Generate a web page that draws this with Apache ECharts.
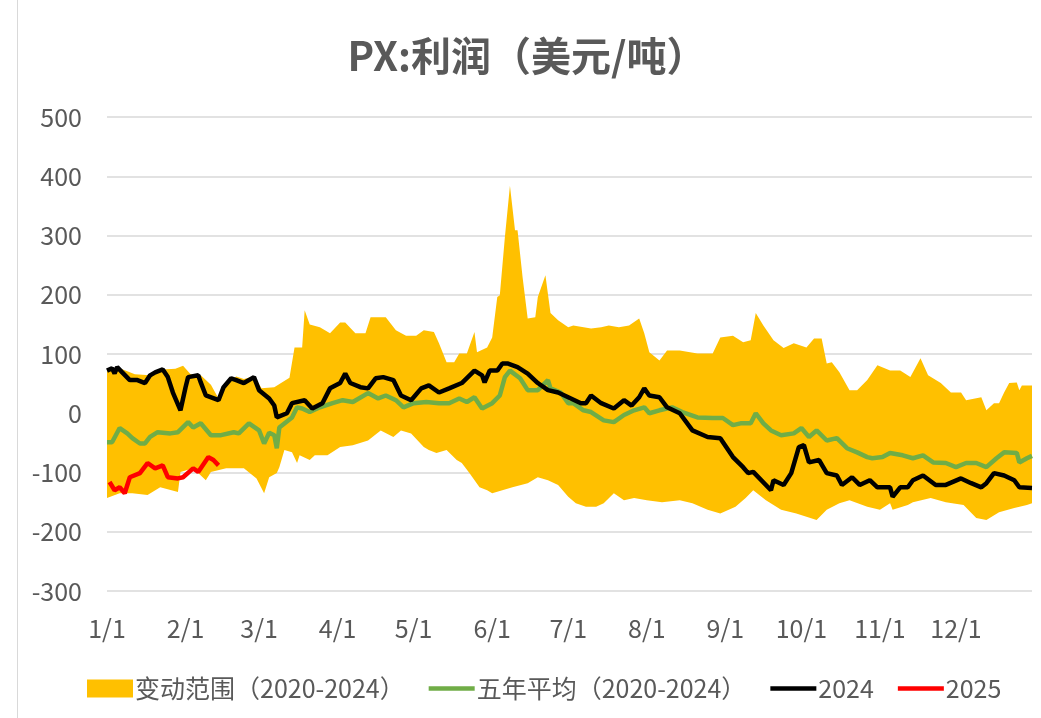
<!DOCTYPE html>
<html>
<head>
<meta charset="utf-8">
<script src="https://cdn.jsdelivr.net/npm/echarts@6/dist/echarts.min.js"></script>
<style>
html,body{margin:0;padding:0;background:#fff;}
#chart{width:1041px;height:718px;}
</style>
</head>
<body>
<div id="chart"></div>
<script>
// x = day of year (2024 calendar, 0 = Jan 1)
var monthLabels = ["1/1","2/1","3/1","4/1","5/1","6/1","7/1","8/1","9/1","10/1","11/1","12/1"];
var monthStartDays = [0,31,60,91,121,152,182,213,244,274,305,335];
var yTicks = [-300,-200,-100,0,100,200,300,400,500];

var bandUpper = [[0,72],[5,76],[11,66],[17,64],[22,74],[27,75],[30,80],[33,66],[37,64],[41,48],[44,25],[47,50],[51,62],[54,58],[58,62],[61,42],[66,44],[72,60],[74,111],[77,111],[78,174],[80,150],[84,145],[88,135],[92,153],[94,153],[98,135],[102,135],[104,162],[110,162],[114,140],[118,131],[122,131],[125,140],[129,137],[131,118],[134,86],[137,86],[139,101],[142,101],[145,137],[146,103],[150,111],[152,128],[154,196],[155,199],[157,297],[159,384],[161,309],[162,309],[164,229],[166,160],[169,162],[170,196],[173,233],[175,169],[178,157],[182,145],[184,148],[191,143],[195,145],[198,148],[202,145],[206,148],[210,160],[212,135],[214,103],[218,89],[221,106],[226,106],[233,101],[239,101],[242,128],[247,131],[251,120],[254,123],[256,169],[259,148],[263,123],[267,110],[271,118],[276,111],[279,126],[282,126],[284,84],[286,86],[289,69],[293,39],[296,39],[300,56],[304,81],[309,72],[313,72],[317,61],[321,93],[324,64],[329,51],[333,35],[337,35],[339,22],[345,27],[347,5],[350,17],[352,17],[354,35],[356,51],[359,52],[360,39],[361,47],[365,47]];

var bandLower = [[0,-143],[5,-135],[10,-135],[16,-138],[21,-125],[28,-133],[29,-99],[34,-93],[39,-113],[41,-99],[47,-93],[54,-93],[59,-110],[62,-135],[64,-108],[67,-101],[68,-91],[70,-62],[73,-66],[75,-84],[76,-71],[80,-79],[82,-71],[87,-71],[92,-57],[97,-54],[103,-46],[108,-29],[113,-40],[116,-29],[120,-34],[125,-57],[127,-62],[130,-67],[134,-62],[138,-79],[140,-84],[143,-101],[147,-125],[150,-130],[152,-135],[156,-130],[160,-125],[166,-118],[170,-108],[174,-113],[178,-121],[182,-141],[185,-152],[189,-158],[193,-158],[196,-152],[200,-135],[204,-147],[208,-143],[213,-147],[219,-150],[226,-147],[231,-152],[237,-163],[242,-169],[248,-158],[252,-143],[255,-130],[260,-147],[266,-163],[272,-169],[280,-180],[284,-163],[289,-152],[293,-147],[300,-158],[305,-163],[309,-152],[310,-163],[316,-155],[318,-150],[325,-143],[331,-150],[338,-155],[343,-177],[347,-180],[352,-167],[358,-160],[363,-155],[365,-152]];

var avg5y = [[0,-49],[2,-49],[5,-25],[8,-34],[10,-42],[13,-51],[15,-51],[17,-40],[20,-32],[25,-34],[28,-32],[32,-15],[34,-24],[37,-17],[41,-37],[45,-37],[50,-32],[52,-34],[56,-17],[60,-29],[62,-51],[64,-33],[66,-37],[67,-59],[68,-24],[73,-7],[75,10],[77,8],[80,2],[84,10],[89,17],[93,22],[97,19],[103,34],[107,25],[110,30],[114,22],[117,10],[121,17],[126,19],[131,17],[135,17],[139,25],[142,19],[145,27],[148,8],[152,17],[155,30],[157,61],[159,72],[163,59],[166,39],[170,39],[174,56],[175,42],[179,35],[182,17],[184,17],[188,5],[191,2],[196,-12],[200,-15],[204,-3],[208,5],[212,10],[214,0],[218,5],[223,10],[227,2],[233,-7],[239,-8],[243,-8],[247,-20],[250,-17],[254,-17],[256,0],[259,-17],[262,-29],[266,-37],[271,-34],[274,-25],[277,-40],[280,-29],[284,-46],[288,-42],[292,-59],[296,-66],[300,-74],[302,-76],[306,-74],[309,-67],[314,-71],[318,-76],[322,-71],[326,-83],[331,-84],[335,-91],[339,-84],[343,-84],[347,-91],[351,-76],[354,-66],[359,-67],[360,-83],[363,-76],[365,-72]];

var y2024 = [[0,72],[2,76],[3,67],[4,78],[6,69],[9,56],[12,56],[15,51],[17,64],[19,69],[22,74],[24,61],[26,35],[29,5],[31,44],[32,61],[36,64],[37,52],[39,30],[44,22],[46,44],[49,59],[51,56],[54,51],[58,61],[60,39],[64,25],[66,13],[67,-7],[71,0],[73,17],[78,22],[81,8],[85,17],[88,42],[92,51],[94,67],[96,51],[100,44],[103,42],[106,59],[109,61],[113,56],[116,30],[120,22],[124,42],[127,47],[131,35],[135,42],[140,51],[145,72],[148,64],[149,52],[151,72],[154,72],[156,84],[158,84],[162,78],[166,67],[170,51],[174,39],[178,35],[182,27],[187,17],[189,17],[191,30],[195,17],[200,8],[204,22],[207,13],[210,27],[212,42],[214,30],[218,27],[221,10],[226,0],[231,-29],[237,-40],[242,-42],[247,-74],[251,-91],[253,-101],[255,-99],[262,-130],[263,-113],[267,-121],[270,-101],[273,-57],[275,-54],[277,-83],[281,-79],[284,-101],[288,-105],[290,-121],[294,-108],[297,-121],[301,-113],[304,-125],[309,-125],[310,-141],[313,-125],[316,-125],[318,-113],[322,-105],[327,-121],[331,-121],[337,-110],[341,-118],[345,-125],[347,-118],[350,-101],[354,-105],[358,-113],[360,-125],[365,-126]];

var y2025 = [[1,-116],[3,-130],[5,-125],[7,-135],[9,-108],[13,-101],[16,-84],[19,-93],[22,-88],[24,-108],[28,-110],[30,-108],[34,-93],[36,-99],[40,-74],[42,-79],[44,-88]];

var names = ["变动范围（2020-2024）","五年平均（2020-2024）","2024","2025"];
var FONT = "'Noto Sans CJK SC', 'Noto Sans', sans-serif";
var TXT = "#595959";
var LINE_ICON = 'path://M0,0H48V4.5H0Z';

var chart = echarts.init(document.getElementById('chart'), null, {renderer:'canvas'});

var option = {
  backgroundColor: '#ffffff',
  animation: false,
  textStyle: {fontFamily: FONT},
  title: {
    text: 'PX:利润（美元/吨）',
    left: 527,
    textAlign: 'center',
    top: 36,
    padding: 0,
    textStyle: {fontFamily: FONT, fontSize: 40, fontWeight: 'bold', color: TXT}
  },
  graphic: [{
    type: 'line', shape: {x1: 17.5, y1: 0, x2: 17.5, y2: 718},
    style: {stroke: '#d9d9d9', lineWidth: 1}, silent: true
  }],
  legend: {
    left: 82, top: 671,
    itemWidth: 46, itemHeight: 18, itemGap: 24,
    textStyle: {fontFamily: FONT, fontSize: 25, color: TXT, padding: [0,0,0,-3]},
    data: [
      {name: names[0], icon: 'rect'},
      {name: names[1], icon: LINE_ICON},
      {name: names[2], icon: LINE_ICON},
      {name: names[3], icon: LINE_ICON}
    ]
  },
  grid: {left: 107, right: 9, top: 117, bottom: 127, containLabel: false},
  xAxis: {
    type: 'value', min: 0, max: 365,
    axisLine: {show: false}, axisTick: {show: false}, splitLine: {show: false},
    axisLabel: {
      customValues: monthStartDays,
      margin: 25,
      fontFamily: FONT, fontSize: 25, color: TXT,
      formatter: function (v) {
        var i = monthStartDays.indexOf(Math.round(v));
        return i >= 0 ? monthLabels[i] : '';
      }
    }
  },
  yAxis: {
    type: 'value', min: yTicks[0], max: yTicks[yTicks.length-1], interval: 100,
    axisLine: {show: false}, axisTick: {show: false},
    splitLine: {lineStyle: {color: '#d9d9d9', width: 1.5}},
    axisLabel: {margin: 25, fontFamily: FONT, fontSize: 25, color: TXT}
  },
  series: [
    {
      name: names[0], type: 'custom', coordinateSystem: 'cartesian2d',
      itemStyle: {color: '#FFC000'},
      z: 1,
      data: [[0, 0]],
      renderItem: function (params, api) {
        if (params.dataIndex !== 0) return null;
        var pts = [];
        for (var i = 0; i < bandUpper.length; i++) pts.push(api.coord(bandUpper[i]));
        for (var j = bandLower.length - 1; j >= 0; j--) pts.push(api.coord(bandLower[j]));
        return {type: 'polygon', shape: {points: pts}, style: {fill: '#FFC000', stroke: null}};
      }
    },
    {
      name: names[1], type: 'line', data: avg5y, symbol: 'none', z: 3,
      lineStyle: {color: '#70AD47', width: 4.5}, itemStyle: {color: '#70AD47'}
    },
    {
      name: names[2], type: 'line', data: y2024, symbol: 'none', z: 4,
      lineStyle: {color: '#000000', width: 4.5}, itemStyle: {color: '#000000'}
    },
    {
      name: names[3], type: 'line', data: y2025, symbol: 'none', z: 5,
      lineStyle: {color: '#FF0000', width: 4.5}, itemStyle: {color: '#FF0000'}
    }
  ]
};
chart.setOption(option);
</script>
</body>
</html>
